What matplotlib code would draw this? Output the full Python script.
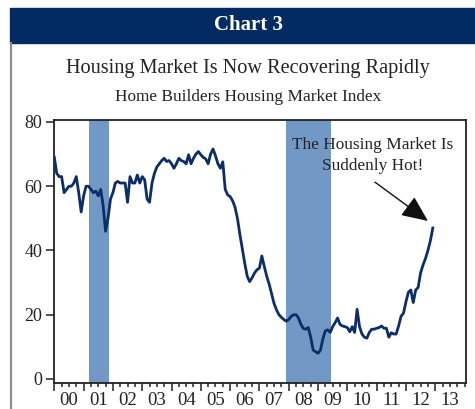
import numpy as np
import matplotlib
matplotlib.use('Agg')
import matplotlib.pyplot as plt
from matplotlib.patches import Rectangle
from matplotlib.lines import Line2D

# NAHB Housing Market Index, monthly Jan 2000 - Dec 2012
hmi_2000 = [69, 64, 63, 63, 58, 59, 60, 60, 61, 63, 58, 52]
hmi_2001 = [57, 60, 60, 59, 58, 58.5, 57, 59, 54, 46, 50, 56]
hmi_2002 = [58, 61, 61.5, 61, 61, 61, 55, 63, 61, 61, 63.5, 61]
hmi_2003 = [63, 62, 56, 55, 61, 64, 66, 67, 68, 68.7, 67.7, 68]
hmi_2004 = [67, 65.6, 67, 68.7, 68, 67.7, 67, 69.8, 67, 68.7, 70, 70.8]
hmi_2005 = [69.8, 69, 68.5, 67, 70, 71.6, 69.5, 67, 65.6, 67.6, 59, 57.3]
hmi_2006 = [56.8, 55.5, 53.5, 50, 45, 40.5, 36, 32, 30.3, 31.5, 33, 34]
hmi_2007 = [34.5, 38.3, 35, 32, 29.5, 26.5, 23.5, 21.5, 20, 19.2, 18.5, 18]
hmi_2008 = [18.5, 19.5, 20, 20, 19, 17, 15.7, 15.5, 16, 13, 9, 8.5]
hmi_2009 = [8, 9, 12.5, 15, 15.3, 14.5, 16.3, 17.5, 19, 17, 16.5, 16.3]
hmi_2010 = [16, 14.7, 16.3, 14.5, 21.7, 16.3, 14, 13, 12.7, 14.5, 15.5, 15.5]
hmi_2011 = [15.8, 16, 16.5, 15.8, 15.8, 13, 14.4, 14, 14, 16.5, 19.5, 20.5]
hmi_2012 = [24, 27, 27.7, 23.8, 27.7, 28.5, 33, 35.5, 37.5, 40, 43, 47]

hmi = (hmi_2000 + hmi_2001 + hmi_2002 + hmi_2003 + hmi_2004 + hmi_2005 + hmi_2006
       + hmi_2007 + hmi_2008 + hmi_2009 + hmi_2010 + hmi_2011 + hmi_2012)
months = 2000 + np.arange(len(hmi)) / 12

# recessions (fractional years)
recessions = [(2001.17, 2001.86), (2007.92, 2009.45)]

years = list(range(2000, 2014))
year_labels = ['00', '01', '02', '03', '04', '05', '06', '07', '08', '09', '10', '11', '12', '13']
y_ticks = [0, 20, 40, 60, 80]

NAVY = '#012b62'
LINE = '#0b2d68'
SHADE = '#7299c6'
TXT = '#222222'
SERIF = ['Liberation Serif', 'DejaVu Serif']

plt.rcParams['font.family'] = SERIF

W, H = 475, 409
fig = plt.figure(figsize=(W / 100, H / 100), dpi=100)

# header band
fig.patches.append(Rectangle((10 / W, 1 - 42.7 / H), (W - 10) / W, 34.4 / H,
                             transform=fig.transFigure, color=NAVY, zorder=0))
fig.text(248 / W, 1 - 25.5 / H, 'Chart 3', color='white', fontsize=15,
         fontweight='bold', ha='center', va='center')
fig.lines.append(Line2D([11 / W, 11 / W], [0, 1 - 42.7 / H], transform=fig.transFigure,
                        color='#8c8c8c', lw=1.6))

fig.text(248 / W, 1 - 69 / H, 'Housing Market Is Now Recovering Rapidly',
         color=TXT, fontsize=14.6, ha='center', va='center')
fig.text(248 / W, 1 - 97 / H, 'Home Builders Housing Market Index',
         color=TXT, fontsize=12.4, ha='center', va='center')

ax = fig.add_axes([54.3 / W, 1 - 383.3 / H, (466 - 54.3) / W, (383.3 - 120) / H])

for start, end in recessions:
    ax.axvspan(start, end, color=SHADE, lw=0, zorder=1)

ax.plot(months, hmi, color=LINE, lw=2.0, zorder=3, solid_joinstyle='round')

ax.set_xlim(2000, 2014.05)
ax.set_ylim(-1.34, 80.62)

ax.set_yticks(y_ticks)
ax.set_yticklabels([str(v) for v in y_ticks])
ax.set_xticks(years)
ax.set_xticklabels([])
ax.set_xticks(np.arange(2000, 2014.01, 0.25), minor=True)

ax.tick_params(axis='x', which='major', length=5.5, width=1.1, color=TXT)
ax.tick_params(axis='x', which='minor', length=3, width=1.1, color=TXT)
ax.tick_params(axis='y', length=6, width=1.1, pad=2.5, labelsize=13, colors=TXT)

# year labels centred in each year
for yr, lab in zip(years, year_labels):
    ax.text(yr + 0.5, -0.067, lab, transform=ax.get_xaxis_transform(),
            ha='center', va='center', fontsize=13.5, color=TXT)

for sp in ax.spines.values():
    sp.set_linewidth(1.3)
    sp.set_color(TXT)

ax.text(2010.87, 69.6, 'The Housing Market Is\nSuddenly Hot!', ha='center', va='center',
        fontsize=12.4, color=TXT, linespacing=1.45, zorder=4)
ax.annotate('', xy=(2012.75, 49.2), xytext=(2010.94, 61.3),
            arrowprops=dict(arrowstyle='-|>,head_length=0.9,head_width=0.4', color='#111111',
                            lw=1.0, mutation_scale=18, shrinkA=0, shrinkB=0))

fig.savefig('out.png', dpi=100)
